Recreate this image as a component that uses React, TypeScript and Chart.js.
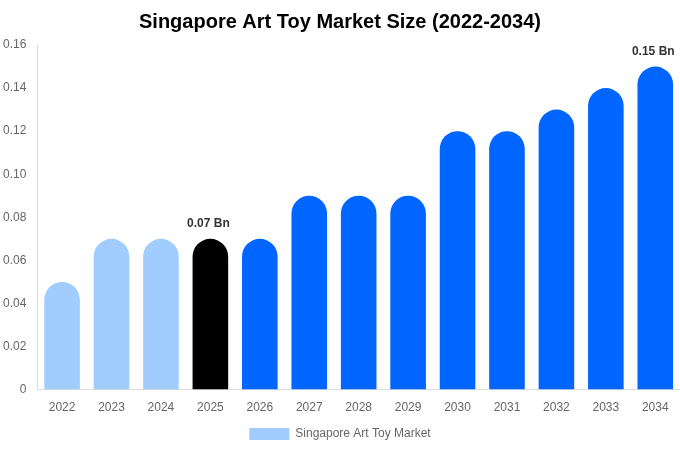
import React, { useEffect, useRef } from "react";
import { Chart, registerables } from "chart.js";

Chart.register(...registerables);

const years = ["2022","2023","2024","2025","2026","2027","2028","2029","2030","2031","2032","2033","2034"];
const marketSize = [0.05,0.07,0.07,0.07,0.07,0.09,0.09,0.09,0.12,0.12,0.13,0.14,0.15];
const barColors = ["#a0cdfe","#a0cdfe","#a0cdfe","#000000","#0066ff","#0066ff","#0066ff","#0066ff","#0066ff","#0066ff","#0066ff","#0066ff","#0066ff"];
const labelledIndices = [3, 12];
const seriesName = "Singapore Art Toy Market";
const titleText = "Singapore Art Toy Market Size (2022-2034)";

const FONT = "'Liberation Sans', Arial, Helvetica, sans-serif";

const valueLabels = {
  id: "valueLabels",
  afterDatasetsDraw(chart: any) {
    const ctx = chart.ctx;
    const meta = chart.getDatasetMeta(0);
    ctx.save();
    ctx.font = `bold 12px ${FONT}`;
    ctx.fillStyle = "#333333";
    ctx.textAlign = "center";
    ctx.textBaseline = "bottom";
    labelledIndices.forEach((i) => {
      const el = meta.data[i];
      if (!el) return;
      ctx.fillText(`${marketSize[i].toFixed(2)} Bn`, el.x - 2, el.y - 9);
    });
    ctx.restore();
  },
};

export default function App() {
  const ref = useRef<HTMLCanvasElement>(null);
  useEffect(() => {
    document.body.style.margin = "0";
    const chart = new Chart(ref.current!, {
      type: "bar",
      data: {
        labels: years,
        datasets: [
          {
            label: seriesName,
            data: marketSize,
            backgroundColor: barColors,
            borderRadius: { topLeft: 100, topRight: 100, bottomLeft: 0, bottomRight: 0 },
            borderSkipped: "bottom",
          },
        ],
      },
      options: {
        animation: false,
        responsive: false,
        maintainAspectRatio: false,
        layout: { padding: { left: 0, right: 0, top: 0, bottom: 0 } },
        plugins: {
          title: {
            display: true,
            text: titleText,
            color: "#000000",
            font: { family: FONT, size: 20, weight: "bold" },
            padding: { top: 10, bottom: 11 },
          },
          legend: {
            position: "bottom",
            labels: {
              color: "#666666",
              font: { family: FONT, size: 12 },
              boxWidth: 40,
              boxHeight: 12,
              generateLabels: () => [
                {
                  text: seriesName,
                  fillStyle: barColors[0],
                  strokeStyle: barColors[0],
                  fontColor: "#666666",
                  lineWidth: 0,
                  hidden: false,
                  datasetIndex: 0,
                },
              ],
            },
          },
          tooltip: { enabled: false },
        },
        scales: {
          x: {
            grid: { display: false },
            border: { display: true, color: "#dddddd" },
            ticks: { color: "#666666", font: { family: FONT, size: 12 } },
          },
          y: {
            min: 0,
            max: 0.16,
            grid: { display: false },
            border: { display: true, color: "#dddddd" },
            ticks: {
              stepSize: 0.02,
              color: "#666666",
              font: { family: FONT, size: 12 },
              callback: (v: any) => (Number(v) === 0 ? "0" : Number(v).toFixed(2)),
            },
          },
        },
      },
      plugins: [valueLabels],
    });
    return () => chart.destroy();
  }, []);
  return (
    <div style={{ width: 680, height: 450 }}>
      <canvas ref={ref} width={680} height={450} style={{ display: "block" }} />
    </div>
  );
}
